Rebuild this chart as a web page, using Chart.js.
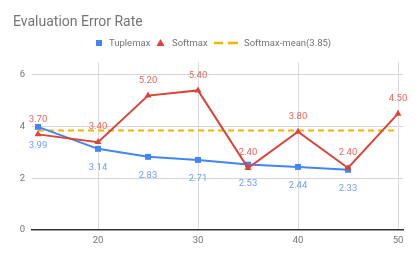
<!DOCTYPE html>
<html>
<head>
<meta charset="utf-8">
<script src="https://cdn.jsdelivr.net/npm/chart.js@4/dist/chart.umd.min.js"></script>
<style>
html,body{margin:0;padding:0;background:#fff;}
#wrap{width:417px;height:258px;position:relative;}
</style>
</head>
<body>
<div id="wrap"><canvas id="c" width="417" height="258"></canvas></div>
<script>
const titleText = "Evaluation Error Rate";
const tupleX = [14, 20, 25, 30, 35, 40, 45];
const tupleY = [3.99, 3.14, 2.83, 2.71, 2.53, 2.44, 2.33];
const softX = [14, 20, 25, 30, 35, 40, 45, 50];
const softY = [3.70, 3.40, 5.20, 5.40, 2.40, 3.80, 2.40, 4.50];
const meanX = [14, 50];
const meanValue = 3.85;
const seriesNames = ["Tuplemax", "Softmax", "Softmax-mean(3.85)"];
const xTicks = [20, 30, 40, 50];
const yTicks = [0, 2, 4, 6];

const BLUE = "#4285F4", RED = "#DB4437", ORANGE = "#F4B400";
const FONT = "Roboto, 'Noto Sans', sans-serif";

const pts = (xs, ys) => xs.map((x, i) => ({x: x, y: ys[i]}));

const labelPlugin = {
  id: "valueLabels",
  afterDatasetsDraw(chart) {
    const ctx = chart.ctx;
    ctx.save();
    ctx.font = "9.5px " + FONT;
    ctx.textAlign = "center";
    ctx.textBaseline = "middle";
    chart.data.datasets.forEach((ds, di) => {
      if (!ds.showLabels) return;
      const meta = chart.getDatasetMeta(di);
      meta.data.forEach((el, i) => {
        const v = ds.data[i].y;
        ctx.fillStyle = ds.labelColor;
        ctx.fillText(v.toFixed(2), el.x, el.y + ds.labelOffset);
      });
    });
    ctx.restore();
  }
};

const headerPlugin = {
  id: "header",
  afterDraw(chart) {
    const ctx = chart.ctx;
    ctx.save();
    ctx.fillStyle = "#757575";
    ctx.font = "14px " + FONT;
    ctx.textBaseline = "alphabetic";
    ctx.textAlign = "left";
    ctx.fillText(titleText, 13, 26);
    // legend
    ctx.font = "9.5px " + FONT;
    const y = 43;
    ctx.fillStyle = BLUE;
    ctx.fillRect(96, y - 3, 6, 6);
    ctx.fillStyle = "#757575";
    ctx.textBaseline = "middle";
    ctx.fillText(seriesNames[0], 109, y + 0.5);
    ctx.fillStyle = RED;
    ctx.beginPath();
    ctx.moveTo(160.5, y - 4);
    ctx.lineTo(164.5, y + 3);
    ctx.lineTo(156.5, y + 3);
    ctx.closePath();
    ctx.fill();
    ctx.fillStyle = "#757575";
    ctx.fillText(seriesNames[1], 172, y + 0.5);
    ctx.strokeStyle = ORANGE;
    ctx.lineWidth = 2.5;
    ctx.beginPath();
    ctx.moveTo(214, y); ctx.lineTo(223, y);
    ctx.moveTo(228, y); ctx.lineTo(238, y);
    ctx.stroke();
    ctx.fillText(seriesNames[2], 244, y + 0.5);
    ctx.restore();
  }
};

new Chart(document.getElementById("c"), {
  type: "line",
  data: {
    datasets: [
      {
        label: seriesNames[1],
        data: pts(softX, softY),
        borderColor: RED,
        backgroundColor: RED,
        borderWidth: 2,
        pointStyle: "triangle",
        pointRadius: 4,
        pointBorderWidth: 0,
        tension: 0,
        order: 0,
        showLabels: true,
        labelColor: "#E5675B",
        labelOffset: -15
      },
      {
        label: seriesNames[0],
        data: pts(tupleX, tupleY),
        borderColor: BLUE,
        backgroundColor: BLUE,
        borderWidth: 2,
        pointStyle: "rect",
        pointRadius: 4.2,
        pointBorderWidth: 0,
        tension: 0,
        order: 1,
        showLabels: true,
        labelColor: "#6EA0F6",
        labelOffset: 19
      },
      {
        label: seriesNames[2],
        data: meanX.map(x => ({x: x, y: meanValue})),
        borderColor: ORANGE,
        backgroundColor: ORANGE,
        borderWidth: 2.2,
        borderDash: [6, 4],
        pointRadius: 0,
        tension: 0,
        order: 2
      }
    ]
  },
  options: {
    responsive: false,
    animation: false,
    events: [],
    layout: {padding: {top: 62, right: 14, bottom: 0, left: 0}},
    plugins: {legend: {display: false}, title: {display: false}, tooltip: {enabled: false}},
    scales: {
      x: {
        type: "linear",
        min: 13.4,
        max: 50.5,
        afterBuildTicks: s => { s.ticks = xTicks.map(v => ({value: v})); },
        afterFit: s => { s.height = 28; },
        grid: {color: "#dcdcdc", lineWidth: 1, drawTicks: false},
        border: {display: true, color: "#333333", width: 1.5},
        ticks: {color: "#757575", font: {family: FONT, size: 9.5}, padding: 5, maxRotation: 0}
      },
      y: {
        type: "linear",
        min: 0,
        max: 6.5,
        afterBuildTicks: s => { s.ticks = yTicks.map(v => ({value: v})); },
        afterFit: s => { s.width = 32; },
        grid: {color: c => c.tick && c.tick.value === 0 ? "rgba(0,0,0,0)" : "#d6d6d6", lineWidth: 1, drawTicks: false},
        border: {display: false},
        ticks: {color: "#757575", font: {family: FONT, size: 9.5}, padding: 7}
      }
    }
  },
  plugins: [labelPlugin, headerPlugin]
});
</script>
</body>
</html>
